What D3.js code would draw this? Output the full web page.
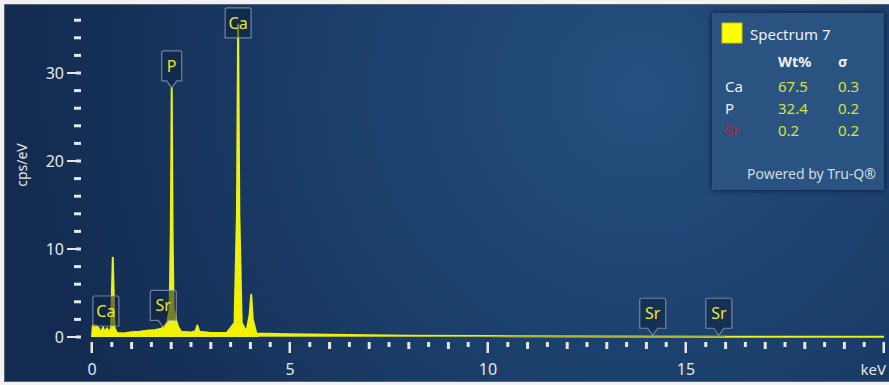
<!DOCTYPE html>
<html>
<head>
<meta charset="utf-8">
<script src="https://cdn.jsdelivr.net/npm/d3@7"></script>
<style>
  body { margin: 0; background: #f2f2f2; }
  svg { display: block; font-family: "Noto Sans", "Open Sans", sans-serif; }
</style>
</head>
<body>
<script>
// spectrum (keV, cps/eV)
var energy = [0.00, 0.02, 0.10, 0.17, 0.22, 0.28, 0.32, 0.38, 0.42, 0.48, 0.525, 0.57, 0.63, 0.8, 1.0, 1.2, 1.4, 1.6, 1.75, 1.82,
              1.9, 1.96, 1.99, 2.013, 2.035, 2.06, 2.12, 2.17, 2.25, 2.5, 2.62, 2.66, 2.71, 3.0, 3.4, 3.6, 3.66, 3.69, 3.72, 3.78,
              3.9, 3.98, 4.02, 4.06, 4.15, 5, 6, 8, 10, 13, 16, 20];
var counts = [0.0, 1.3, 1.3, 1.0, 0.5, 1.1, 0.5, 1.0, 0.5, 1.0, 9.0, 1.0, 0.45, 0.4, 0.55, 0.6, 0.7, 0.8, 0.95, 1.2,
              1.6, 3.2, 12, 28.3, 12, 3.2, 2.0, 1.2, 0.6, 0.5, 0.7, 1.3, 0.6, 0.45, 0.45, 1.6, 14, 35.5, 14, 1.6,
              0.6, 2.5, 4.8, 2.0, 0.4, 0.3, 0.25, 0.15, 0.1, 0.05, 0.03, 0.02];

// peak callouts
var labelEl = ["Ca", "Ca", "P", "Sr", "Sr", "Sr"];
var labelKeV = [3.69, 0.35, 2.013, 1.80, 14.16, 15.83];
var labelCps = [34.0, 1.25, 28.3, 1.1, 0.2, 0.2];
var labelPointer = [false, false, true, true, true, true];

// quant table
var quantEl = ["Ca", "P", "Sr"];
var quantWt = ["67.5", "32.4", "0.2"];
var quantSigma = ["0.3", "0.2", "0.2"];

var yTicks = [0, 10, 20, 30];
var xTicks = [0, 5, 10, 15];

var W = 889, H = 385;
var svg = d3.select("body").append("svg").attr("width", W).attr("height", H);

var defs = svg.append("defs");
var grad = defs.append("radialGradient").attr("id", "bg")
    .attr("gradientUnits", "userSpaceOnUse")
    .attr("cx", 640).attr("cy", 90).attr("r", 620);
grad.append("stop").attr("offset", "0").attr("stop-color", "#25507f");
grad.append("stop").attr("offset", "0.55").attr("stop-color", "#1a3c68");
grad.append("stop").attr("offset", "1").attr("stop-color", "#132b50");

var shadow = defs.append("filter").attr("id", "sh").attr("x", "-20%").attr("y", "-20%").attr("width", "140%").attr("height", "140%");
shadow.append("feDropShadow").attr("dx", 0).attr("dy", 0).attr("stdDeviation", 3).attr("flood-color", "#07162c").attr("flood-opacity", 0.7);

svg.append("rect").attr("x", 4).attr("y", 4).attr("width", W - 4).attr("height", 378)
    .attr("fill", "#5a6470");
svg.append("rect").attr("x", 5).attr("y", 5).attr("width", W - 5).attr("height", 376)
    .attr("fill", "url(#bg)");

var x = d3.scaleLinear().domain([0, 20]).range([92, 884]);
var y = d3.scaleLinear().domain([0, 37]).range([337, 11.4]);

var tickColor = "#e4e8ee";

// y axis ticks
var yMinor = d3.range(2, 37, 2).filter(function(v) { return v % 10 !== 0; });
svg.append("g").selectAll("rect").data(yMinor).join("rect")
    .attr("x", 74).attr("width", 7).attr("y", function(d) { return y(d) - 1.5; }).attr("height", 3)
    .attr("fill", tickColor);
var yMaj = svg.append("g").selectAll("g").data(yTicks).join("g");
yMaj.append("rect").attr("x", 67).attr("width", 9).attr("y", function(d) { return y(d) - 1; }).attr("height", 2).attr("fill", tickColor);
yMaj.append("rect").attr("x", 76).attr("width", 5).attr("y", function(d) { return y(d) - 1.5; }).attr("height", 3).attr("fill", tickColor);
yMaj.append("text").attr("x", 64).attr("y", function(d) { return y(d) + 5.5; })
    .attr("text-anchor", "end").attr("font-size", 16).attr("fill", tickColor).text(function(d) { return d; });

svg.append("text").attr("transform", "translate(27,165) rotate(-90)")
    .attr("text-anchor", "middle").attr("font-size", 14).attr("fill", tickColor).text("cps/eV");

// x axis ticks
var xAll = d3.range(0, 20.01, 0.5);
svg.append("g").selectAll("rect").data(xAll).join("rect")
    .attr("x", function(d) { return x(d) - 1.5; })
    .attr("width", function(d) { return d % 5 === 0 ? 2.5 : 3; })
    .attr("y", 342)
    .attr("height", function(d) { return d % 5 === 0 ? 11 : (d % 1 === 0 ? 7 : 5); })
    .attr("fill", tickColor);
svg.append("g").selectAll("text").data(xTicks).join("text")
    .attr("x", function(d) { return x(d); }).attr("y", 375)
    .attr("text-anchor", "middle").attr("font-size", 16).attr("fill", tickColor).text(function(d) { return d; });
svg.append("text").attr("x", 886).attr("y", 375).attr("text-anchor", "end")
    .attr("font-size", 15).attr("fill", tickColor).text("keV");

// spectrum
var pts = energy.map(function(e, i) { return [e, counts[i]]; });
var area = d3.area().x(function(d) { return x(d[0]); }).y0(y(0)).y1(function(d) { return y(d[1]); });
var line = d3.line().x(function(d) { return x(d[0]); }).y(function(d) { return y(d[1]); });
svg.append("path").datum(pts).attr("d", area).attr("fill", "#f2f200");
svg.append("path").datum(pts).attr("d", line).attr("fill", "none").attr("stroke", "#eef010")
    .attr("stroke-width", 2).attr("stroke-linejoin", "round");
svg.append("line").attr("x1", x(4.2)).attr("x2", x(16)).attr("y1", y(0) - 0.5).attr("y2", y(0) - 0.5)
    .attr("stroke", "#8fa040").attr("stroke-width", 1).attr("opacity", 0.7);

// callouts
labelEl.forEach(function(el, i) {
  var cx = x(labelKeV[i]);
  var tip = y(labelCps[i]);
  var bw = el === "P" ? 20 : 26, bh = 30, pt = labelPointer[i] ? 7 : 0;
  var bottom = tip - pt, top = bottom - bh;
  var l = cx - bw / 2, r = cx + bw / 2;
  var d = "M" + l + "," + (top + 2) + "Q" + l + "," + top + " " + (l + 2) + "," + top +
          "L" + (r - 2) + "," + top + "Q" + r + "," + top + " " + r + "," + (top + 2) +
          "L" + r + "," + bottom;
  if (pt) d += "L" + (cx + 5) + "," + bottom + "L" + cx + "," + tip + "L" + (cx - 5) + "," + bottom;
  d += "L" + l + "," + bottom + "Z";
  svg.append("path").attr("d", d).attr("fill", "rgba(14,34,62,0.55)")
      .attr("stroke", "rgba(140,160,185,0.75)").attr("stroke-width", 1.2);
  svg.append("text").attr("x", cx).attr("y", top + 21).attr("text-anchor", "middle")
      .attr("font-size", 16).attr("fill", "#e8ea30").text(el);
});

// legend panel
var lg = svg.append("g");
lg.append("rect").attr("x", 712).attr("y", 13).attr("width", 172).attr("height", 177)
    .attr("fill", "#2c5282").attr("filter", "url(#sh)");
lg.append("rect").attr("x", 722).attr("y", 23).attr("width", 20).attr("height", 20)
    .attr("fill", "#ffff00").attr("stroke", "#c8c800").attr("stroke-width", 1);
lg.append("text").attr("x", 750).attr("y", 40).attr("font-size", 15).attr("fill", "#eef1f5").text("Spectrum 7");
lg.append("text").attr("x", 778).attr("y", 67).attr("font-size", 14.5).attr("font-weight", "bold").attr("fill", "#eef1f5").text("Wt%");
lg.append("text").attr("x", 838).attr("y", 67).attr("font-size", 14.5).attr("font-weight", "bold").attr("fill", "#eef1f5").text("σ");
quantEl.forEach(function(el, i) {
  var yy = 92 + i * 22;
  lg.append("text").attr("x", 725).attr("y", yy).attr("font-size", 15)
      .attr("fill", el === "Sr" ? "#c8202c" : "#eef1f5").text(el);
  lg.append("text").attr("x", 778).attr("y", yy).attr("font-size", 15).attr("fill", "#d6e23c").text(quantWt[i]);
  lg.append("text").attr("x", 838).attr("y", yy).attr("font-size", 15).attr("fill", "#d6e23c").text(quantSigma[i]);
});
lg.append("text").attr("x", 747).attr("y", 179).attr("font-size", 14).attr("fill", "#d2dae4").text("Powered by Tru-Q®");
</script>
</body>
</html>
